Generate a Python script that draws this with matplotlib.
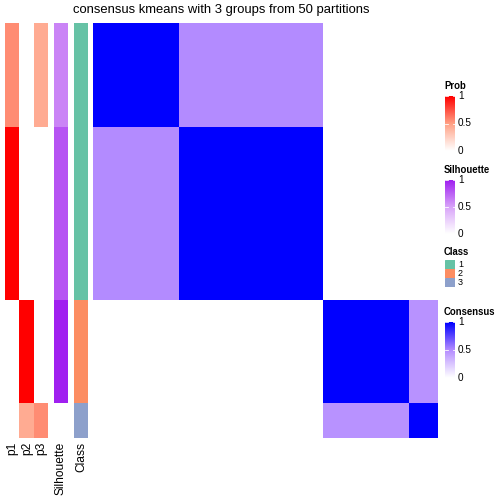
import numpy as np
import matplotlib
matplotlib.use("Agg")
import matplotlib.pyplot as plt
from matplotlib.colors import LinearSegmentedColormap, ListedColormap

plt.rcParams['font.family'] = ['Liberation Sans', 'DejaVu Sans']

# per-sample annotation values (24 samples, ordered as in the heatmap)
p1 = [0.56]*6 + [1.0]*10 + [0.0]*6 + [0.0]*2
p2 = [0.0]*6 + [0.0]*10 + [1.0]*6 + [0.44]*2
p3 = [0.44]*6 + [0.0]*10 + [0.0]*6 + [0.56]*2
silhouette = [0.62]*6 + [0.8]*10 + [1.0]*6 + [0.0]*2
cls = [1]*6 + [1]*10 + [2]*6 + [3]*2

# consensus between sample blocks
block_sizes = [6, 10, 6, 2]
block_consensus = [[1.0, 0.5, 0.0, 0.0],
                   [0.5, 1.0, 0.0, 0.0],
                   [0.0, 0.0, 1.0, 0.47],
                   [0.0, 0.0, 0.47, 1.0]]

title = "consensus kmeans with 3 groups from 50 partitions"
class_colors = ['#66C2A5', '#FC8D62', '#8DA0CB']

cm_prob = LinearSegmentedColormap.from_list('prob', [(0, 'white'), (0.5, '#FFA084'), (1, '#FF0000')])
cm_sil = LinearSegmentedColormap.from_list('sil', [(0, 'white'), (0.5, '#D8A4F9'), (1, '#A020F0')])
cm_cons = LinearSegmentedColormap.from_list('cons', [(0, 'white'), (0.5, '#B48CFF'), (1, '#0000FF')])
cm_cls = ListedColormap(class_colors)

W = H = 504
fig = plt.figure(figsize=(7, 7), dpi=72)

def ax_px(x0, y0, x1, y1):
    return fig.add_axes([x0 / W, 1 - y1 / H, (x1 - x0) / W, (y1 - y0) / H])

top, bot = 23, 438

cons = np.repeat(np.repeat(np.array(block_consensus), block_sizes, axis=0), block_sizes, axis=1)
ax = ax_px(93, top, 438, bot)
ax.imshow(cons, cmap=cm_cons, vmin=0, vmax=1, aspect='auto', interpolation='nearest')
ax.set_axis_off()

axp = ax_px(5, top, 48, bot)
axp.imshow(np.array([p1, p2, p3]).T, cmap=cm_prob, vmin=0, vmax=1, aspect='auto', interpolation='nearest')
axp.set_axis_off()

axs = ax_px(54, top, 68, bot)
axs.imshow(np.array([silhouette]).T, cmap=cm_sil, vmin=0, vmax=1, aspect='auto', interpolation='nearest')
axs.set_axis_off()

axc = ax_px(74, top, 88, bot)
axc.imshow(np.array([cls]).T, cmap=cm_cls, vmin=0.5, vmax=3.5, aspect='auto', interpolation='nearest')
axc.set_axis_off()

# column labels under the annotations
lab_y = 1 - 442 / H
for x, t in [(12.5, 'p1'), (27, 'p2'), (41, 'p3'), (61, 'Silhouette'), (81, 'Class')]:
    fig.text(x / W, lab_y, t, rotation=90, ha='center', va='top', fontsize=12)

fig.text(221 / W, 1 - 10 / H, title, ha='center', va='center', fontsize=13)

# legends
def gradient_legend(name, cmap, title_y, y0, y1):
    fig.text(444 / W, 1 - title_y / H, name, ha='left', va='center', fontsize=9.5, fontweight='bold')
    a = ax_px(445, y0, 455, y1)
    grad = np.linspace(1, 0, 100).reshape(-1, 1)
    a.imshow(grad, cmap=cmap, vmin=0, vmax=1, aspect='auto', extent=[0, 1, 0, 1])
    for v in (0, 0.5, 1):
        a.plot([0, 0.25], [v, v], color='white', lw=0.8)
        a.plot([0.75, 1], [v, v], color='white', lw=0.8)
        fig.text(458 / W, 1 - (y1 - v * (y1 - y0)) / H, f"{v:g}", ha='left', va='center', fontsize=10)
    a.set_xlim(0, 1)
    a.set_ylim(0, 1)
    a.set_axis_off()

gradient_legend('Prob', cm_prob, 86, 96, 151)
gradient_legend('Silhouette', cm_sil, 170, 180, 234)
gradient_legend('Consensus', cm_cons, 312, 322, 378)

fig.text(444 / W, 1 - 252 / H, 'Class', ha='left', va='center', fontsize=9.5, fontweight='bold')
for i, c in enumerate(class_colors):
    y0 = 260 + i * 9
    a = ax_px(445, y0, 455, y0 + 9)
    a.add_patch(plt.Rectangle((0, 0), 1, 1, color=c))
    a.set_axis_off()
    fig.text(458 / W, 1 - (y0 + 4.5) / H, str(i + 1), ha='left', va='center', fontsize=9)

fig.savefig('out.png', dpi=72)
